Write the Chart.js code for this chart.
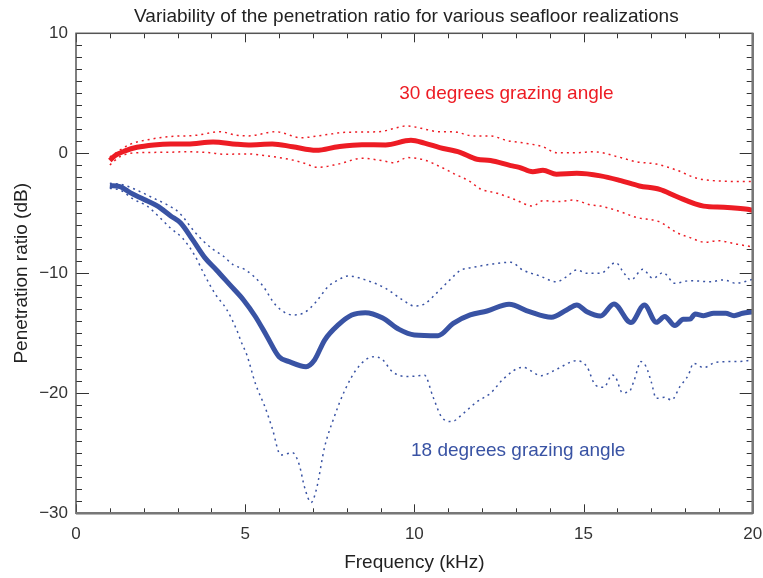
<!DOCTYPE html>
<html>
<head>
<meta charset="utf-8">
<script src="https://cdn.jsdelivr.net/npm/chart.js@4.4.1/dist/chart.umd.min.js"></script>
<style>
  html, body { margin: 0; padding: 0; background: #fff; }
  #wrap { width: 763px; height: 578px; }
</style>
</head>
<body>
<div id="wrap"><canvas id="penChart"></canvas></div>
<script>
// 30 degrees grazing angle: mean and spread of the penetration ratio (dB)
const red30MeanFreq = [1.0, 1.15, 1.45, 1.8, 2.3, 2.8, 3.3, 4.05, 4.75, 5.1, 5.8, 6.4, 7.1, 7.75, 8.45, 9.15, 9.9, 10.3, 10.75, 11.35, 11.85, 12.25, 12.85, 13.1, 13.5, 13.8, 14.2, 14.8, 15.5, 16.1, 16.65, 17.25, 17.75, 18.55, 19.15, 19.85, 20];
const red30Mean = [-0.6, -0.2, 0.2, 0.5, 0.7, 0.78, 0.78, 0.94, 0.75, 0.7, 0.78, 0.55, 0.25, 0.55, 0.72, 0.7, 1.08, 0.85, 0.47, 0.08, -0.5, -0.6, -1.03, -1.17, -1.53, -1.42, -1.75, -1.67, -1.88, -2.28, -2.72, -3.0, -3.6, -4.4, -4.5, -4.67, -4.75];

const red30UpperFreq = [1.0, 1.6, 2.2, 2.8, 3.55, 4.25, 4.75, 5.1, 5.9, 6.65, 7.35, 7.95, 8.95, 9.8, 10.2, 10.75, 11.15, 11.75, 12.25, 12.75, 13.3, 13.8, 14.2, 14.8, 15.3, 16.0, 16.55, 17.15, 17.75, 18.35, 18.95, 20];
const red30Upper = [-0.3, 0.75, 1.17, 1.4, 1.5, 1.8, 1.5, 1.45, 1.8, 1.3, 1.53, 1.75, 1.8, 2.28, 2.08, 1.8, 1.8, 1.44, 1.44, 1.05, 0.83, 0.55, 0.05, 0.05, 0.13, -0.28, -0.7, -0.9, -1.4, -2.08, -2.3, -2.36];

const red30LowerFreq = [1.0, 1.3, 1.8, 2.6, 3.25, 3.95, 4.35, 5.1, 5.6, 6.3, 6.75, 7.15, 7.75, 8.45, 9.1, 9.4, 9.8, 10.3, 10.75, 11.15, 11.65, 11.95, 12.45, 12.95, 13.5, 13.8, 14.2, 14.7, 15.2, 15.5, 16.0, 16.55, 17.25, 17.75, 18.15, 18.6, 18.95, 19.55, 20];
const red30Lower = [-0.97, -0.28, 0.05, 0.08, 0.13, 0.05, -0.08, -0.05, -0.2, -0.5, -0.83, -1.17, -0.9, -0.42, -0.64, -0.78, -0.36, -0.56, -1.1, -1.67, -2.36, -2.97, -3.33, -3.83, -4.39, -3.95, -4.03, -3.9, -4.3, -4.4, -4.78, -5.33, -5.72, -6.6, -7.03, -7.42, -7.28, -7.58, -7.8];

// 18 degrees grazing angle
const blue18MeanFreq = [1.0, 1.3, 1.6, 2.0, 2.4, 2.8, 3.1, 3.45, 3.8, 4.15, 4.55, 4.95, 5.3, 5.65, 6.0, 6.3, 6.8, 7.05, 7.35, 7.75, 8.15, 8.55, 9.05, 9.55, 10.0, 10.7, 11.15, 11.65, 12.15, 12.8, 13.4, 14.05, 14.5, 14.8, 15.1, 15.5, 15.9, 16.4, 16.8, 17.15, 17.4, 17.7, 17.95, 18.15, 18.3, 18.55, 18.85, 19.2, 19.45, 19.7, 20];
const blue18Mean = [-2.7, -2.78, -3.28, -3.83, -4.39, -5.22, -5.83, -7.22, -8.67, -9.72, -10.97, -12.22, -13.6, -15.28, -16.95, -17.36, -17.78, -17.22, -15.56, -14.3, -13.47, -13.28, -13.7, -14.67, -15.14, -15.2, -14.17, -13.47, -13.14, -12.58, -13.2, -13.67, -13.06, -12.64, -13.2, -13.56, -12.56, -14.11, -12.64, -14.08, -13.6, -14.36, -13.83, -13.81, -13.39, -13.53, -13.33, -13.33, -13.53, -13.33, -13.2];

const blue18UpperFreq = [1.0, 1.4, 1.9, 2.3, 2.7, 3.05, 3.5, 3.75, 4.05, 4.35, 4.65, 5.0, 5.5, 5.9, 6.4, 6.75, 7.1, 7.45, 7.75, 8.05, 8.55, 9.15, 9.65, 10.0, 10.3, 10.65, 11.05, 11.35, 11.75, 12.25, 12.85, 13.2, 13.7, 14.2, 14.5, 14.8, 15.1, 15.5, 15.95, 16.2, 16.4, 16.75, 17.05, 17.35, 17.7, 18.15, 18.75, 19.15, 19.5, 20];
const blue18Upper = [-2.5, -2.64, -3.2, -3.75, -4.3, -4.95, -6.53, -7.28, -8.0, -8.56, -9.3, -9.7, -10.97, -12.64, -13.47, -13.28, -12.36, -11.11, -10.55, -10.22, -10.55, -11.25, -12.22, -12.72, -12.55, -11.67, -10.55, -9.78, -9.5, -9.25, -9.08, -9.72, -10.22, -10.7, -10.28, -9.72, -10.0, -10.0, -9.11, -10.0, -10.55, -9.67, -10.42, -9.95, -10.83, -10.61, -10.7, -10.55, -10.83, -10.5];

const blue18LowerFreq = [1.0, 1.3, 1.7, 2.1, 2.45, 2.8, 3.15, 3.5, 3.8, 4.1, 4.45, 4.75, 4.9, 5.05, 5.3, 5.6, 5.8, 6.05, 6.4, 6.6, 6.75, 6.95, 7.1, 7.35, 7.6, 7.95, 8.35, 8.8, 9.05, 9.35, 9.8, 10.3, 10.55, 10.8, 11.1, 11.45, 11.85, 12.25, 12.65, 13.2, 13.75, 14.2, 14.8, 15.1, 15.35, 15.6, 15.85, 15.95, 16.15, 16.35, 16.5, 16.7, 16.85, 17.0, 17.15, 17.4, 17.6, 17.85, 18.1, 18.25, 18.55, 18.9, 19.25, 19.55, 20];
const blue18Lower = [-2.92, -3.06, -3.83, -4.39, -5.28, -6.25, -7.08, -8.47, -10.14, -11.67, -13.0, -14.72, -15.83, -16.8, -19.17, -21.25, -22.92, -25.14, -24.95, -25.97, -27.78, -29.1, -28.06, -24.45, -22.22, -19.72, -17.78, -16.95, -17.17, -18.2, -18.61, -18.5, -20.28, -21.95, -22.36, -21.67, -20.7, -20.0, -18.75, -17.83, -18.53, -18.0, -17.28, -17.78, -19.31, -19.5, -18.47, -18.67, -19.95, -19.86, -18.89, -17.36, -17.78, -19.03, -20.42, -20.33, -20.56, -19.44, -18.47, -17.5, -17.86, -17.42, -17.36, -17.36, -17.22];

// axis tick labels
const freqTicks = [0, 5, 10, 15, 20];
const dbTicks = [-30, -20, -10, 0, 10];

const RED = '#ED1C24';
const BLUE = '#3953A4';
const FONT = "'Liberation Sans', Arial, sans-serif";
const TITLE = 'Variability of the penetration ratio for various seafloor realizations';

function pts(xs, ys) {
  return xs.map((f, i) => ({ x: f, y: ys[i] }));
}

function solid(label, xs, ys, color) {
  return {
    label: label,
    data: pts(xs, ys),
    borderColor: color,
    borderWidth: 5,
    pointRadius: 0,
    cubicInterpolationMode: 'monotone',
    borderCapStyle: 'butt',
    borderJoinStyle: 'round'
  };
}

function dotted(label, xs, ys, color) {
  return {
    label: label,
    data: pts(xs, ys),
    borderColor: color,
    borderWidth: 1.5,
    borderDash: [2, 4],
    pointRadius: 0,
    cubicInterpolationMode: 'monotone'
  };
}

// tick marks on all four sides, pointing inward, plus the box, title and curve labels
const frameTicks = {
  id: 'frameTicks',
  afterDatasetsDraw(chart) {
    const { ctx, chartArea: a, scales: { x, y } } = chart;
    ctx.save();
    ctx.strokeStyle = '#333';
    ctx.lineWidth = 1;
    ctx.beginPath();
    for (let f = x.min; f <= x.max; f++) {
      const px = Math.round(x.getPixelForValue(f)) + 0.5;
      const len = freqTicks.includes(f) ? 9 : 5;
      ctx.moveTo(px, a.bottom); ctx.lineTo(px, a.bottom - len);
      ctx.moveTo(px, a.top); ctx.lineTo(px, a.top + len);
    }
    for (let d = y.min; d <= y.max; d++) {
      const py = Math.round(y.getPixelForValue(d)) + 0.5;
      const len = dbTicks.includes(d) ? 13 : 6;
      ctx.moveTo(a.left, py); ctx.lineTo(a.left + len, py);
      ctx.moveTo(a.right, py); ctx.lineTo(a.right - len, py);
    }
    ctx.stroke();

    ctx.strokeStyle = '#555';
    ctx.lineWidth = 1.5;
    ctx.strokeRect(a.left, a.top, a.right - a.left, a.bottom - a.top);
    ctx.strokeStyle = '#777';
    ctx.lineWidth = 2.5;
    ctx.beginPath();
    ctx.moveTo(a.left, a.bottom); ctx.lineTo(a.right, a.bottom);
    ctx.moveTo(a.right, a.top); ctx.lineTo(a.right, a.bottom);
    ctx.stroke();

    ctx.textAlign = 'center';
    ctx.textBaseline = 'middle';
    ctx.font = '19px ' + FONT;
    ctx.fillStyle = '#222';
    ctx.fillText(TITLE, (a.left + a.right) / 2 - 8, 16.5);

    ctx.fillStyle = RED;
    ctx.fillText('30 degrees grazing angle', x.getPixelForValue(12.72), y.getPixelForValue(4.94));
    ctx.fillStyle = BLUE;
    ctx.fillText('18 degrees grazing angle', x.getPixelForValue(13.07), y.getPixelForValue(-24.75));
    ctx.restore();
  }
};

const minus = v => (v < 0 ? '\u2212' + Math.abs(v) : String(v));

new Chart(document.getElementById('penChart'), {
  type: 'line',
  data: {
    datasets: [
      dotted('30 deg upper', red30UpperFreq, red30Upper, RED),
      dotted('30 deg lower', red30LowerFreq, red30Lower, RED),
      dotted('18 deg upper', blue18UpperFreq, blue18Upper, BLUE),
      dotted('18 deg lower', blue18LowerFreq, blue18Lower, BLUE),
      solid('30 deg mean', red30MeanFreq, red30Mean, RED),
      solid('18 deg mean', blue18MeanFreq, blue18Mean, BLUE)
    ]
  },
  options: {
    responsive: true,
    maintainAspectRatio: false,
    animation: false,
    layout: { padding: { left: 0, right: 0, top: 33.3, bottom: 0 } },
    plugins: {
      legend: { display: false },
      tooltip: { enabled: false },
      title: { display: false }
    },
    scales: {
      x: {
        type: 'linear',
        min: 0,
        max: 20,
        afterBuildTicks: s => { s.ticks = freqTicks.map(v => ({ value: v })); },
        afterFit: s => { s.height = 64.7; s.paddingRight = 10.3; s.paddingLeft = 0; },
        grid: { display: false, drawTicks: false },
        border: { display: false },
        ticks: {
          color: '#333',
          font: { family: FONT, size: 17 },
          padding: 11,
          maxRotation: 0,
          callback: v => minus(v)
        },
        title: {
          display: true,
          text: 'Frequency (kHz)',
          color: '#222',
          font: { family: FONT, size: 19 },
          padding: { top: 0, bottom: 3.5 }
        }
      },
      y: {
        type: 'linear',
        min: -30,
        max: 10,
        afterBuildTicks: s => { s.ticks = dbTicks.map(v => ({ value: v })); },
        afterFit: s => { s.width = 76; s.paddingTop = 0; s.paddingBottom = 0; },
        grid: { display: false, drawTicks: false },
        border: { display: false },
        ticks: {
          color: '#333',
          font: { family: FONT, size: 17 },
          padding: 8,
          callback: v => minus(v)
        },
        title: {
          display: true,
          text: 'Penetration ratio (dB)',
          color: '#222',
          font: { family: FONT, size: 19 },
          padding: { top: 10, bottom: 0 }
        }
      }
    }
  },
  plugins: [frameTicks]
});
</script>
</body>
</html>
